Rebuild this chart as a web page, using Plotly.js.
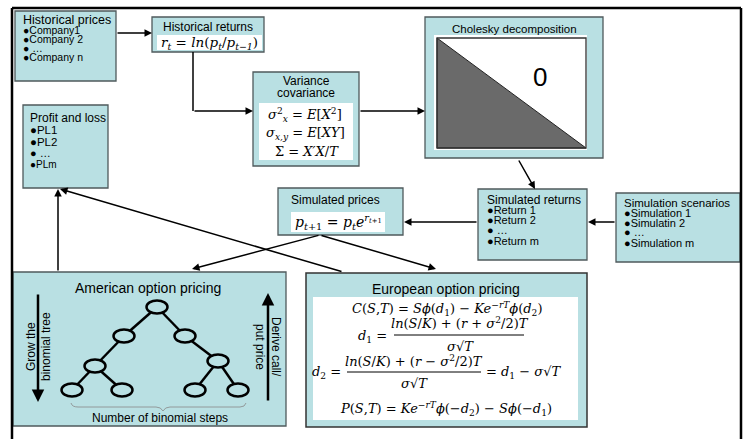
<!DOCTYPE html>
<html><head><meta charset="utf-8">
<script src="https://cdn.plot.ly/plotly-3.0.1.min.js"></script>
<style>html,body{margin:0;padding:0;background:#fff}</style>
</head><body><div id="chart" style="width:744px;height:439px"></div>
<script>
// ---- content (text) ----
const companies = ["Company1", "Company 2", "…", "Company n"];
const plItems = ["PL1", "PL2", "…", "PLm"];
const returnItems = ["Return 1", "Return 2", "…", "Return m"];
const scenarioItems = ["Simulation 1", "Simulatin 2", "…", "Simulation m"];
const treeNodes = [[157,307],[124,336],[185,336],[95,366],[218,361],[72,390],[122,390],[195,390],[238,390]];
const treeEdges = [[0,1],[0,2],[1,3],[2,4],[3,5],[3,6],[4,7],[4,8]];

const BOX = '#b9e0e3', EDGE = '#4f5a5c';
const SANS = 'Liberation Sans, Arial, sans-serif';
const SERIF = 'DejaVu Serif, Liberation Serif, serif';
const shapes = [], ann = [];

function rect(x0,y0,x1,y1,fill,line,w){shapes.push({type:'rect',xref:'x',yref:'y',x0,y0,x1,y1,fillcolor:fill,line:{color:line||EDGE,width:w===undefined?1.3:w},layer:'below'});}
function line(x0,y0,x1,y1,w,c){shapes.push({type:'line',xref:'x',yref:'y',x0,y0,x1,y1,line:{color:c||'#000',width:w||1.5}});}
function txt(x,y,t,size,anchor,font,extra){ann.push(Object.assign({x,y,xref:'x',yref:'y',text:t,showarrow:false,xanchor:anchor||'left',yanchor:'middle',font:{family:font||SANS,size:size,color:'#000'}},extra||{}));}
function arrow(x0,y0,x1,y1,w,hs){ann.push({x:x1,y:y1,ax:x0,ay:y0,xref:'x',yref:'y',axref:'x',ayref:'y',text:'',showarrow:true,arrowhead:2,arrowsize:hs||1,arrowwidth:w||1.5,arrowcolor:'#000',standoff:0,startstandoff:0});}
function bullets(x,ys,items,sizes){items.forEach((s,i)=>txt(x,ys[i],'●'+(s==='…'?' …':s),sizes?sizes[i]:11));}

// outer frame
line(12,8,12,439,2.5); line(12,8,741,8,2.5); line(741,8,741,439,2.5);

// Historical prices
rect(15,11,116,81,BOX);
txt(21,20,'Historical prices',12.5);
bullets(21,[30,39,48,57],companies,[10.5,10.5,10.5,10.5]);

// Historical returns
rect(152,17,264,52,BOX);
txt(208,27,'Historical returns',12,'center');
rect(157,35,262,50,'#fff','#fff',0);
txt(209,43,'<i>r<sub>t</sub></i> = <i>ln</i>(<i>p<sub>t</sub></i>/<i>p<sub>t−1</sub></i>)',13.5,'center',SERIF);
arrow(116,33,152,33);

// Variance covariance
rect(253,72,359,166,BOX);
txt(306,81,'Variance',12,'center');
txt(306,93,'covariance',12,'center');
rect(259,103,353,160,'#fff','#fff',0);
txt(305,115,'<i>σ</i><sup>2</sup><sub><i>x</i></sub> = <i>E</i>[<i>X</i><sup>2</sup>]',13,'center',SERIF);
txt(305,133,'<i>σ<sub>x,y</sub></i> = <i>E</i>[<i>XY</i>]',13,'center',SERIF);
txt(307,151,'Σ = <i>X′X</i>/<i>T</i>',13,'center',SERIF);
shapes.push({type:'path',xref:'x',yref:'y',path:'M193,52 L193,111',line:{color:'#000',width:1.5}});
arrow(193,111,253,111);
arrow(359,111,425,111);

// Cholesky
rect(425,17,603,158,BOX);
txt(514,29,'Cholesky decomposition',11.5,'center');
rect(434,35,587,150,'#fff','#fff',0);
shapes.push({type:'path',xref:'x',yref:'y',path:'M437,38 L437,148 L586,148 Z',fillcolor:'#6a6a6a',line:{color:'#222',width:1}});
shapes.push({type:'rect',xref:'x',yref:'y',x0:437,y0:38,x1:586,y1:148,line:{color:'#333',width:1.3}});
txt(540,77,'0',26,'center');
arrow(518,159,535,189);

// Simulated returns
rect(478,189,587,260,BOX);
txt(485,200,'Simulated returns',12);
bullets(485,[210,220,230,241],returnItems);

// Simulation scenarios
rect(616,193,740,262,BOX);
txt(622,203,'Simulation scenarios',11.5);
bullets(622,[213,223,232,243],scenarioItems);
arrow(616,222,588,222);

// Simulated prices
rect(278,188,403,235,BOX);
txt(335,200,'Simulated prices',12,'center');
rect(291,212,385,232,'#fff','#fff',0);
txt(338,222,'<i>p</i><sub><i>t</i>+1</sub> = <i>p<sub>t</sub>e</i><sup><i>r</i><sub><i>t</i>+1</sub></sup>',14,'center',SERIF);
arrow(478,222,404,222);

// Profit and loss
rect(23,105,108,188,BOX);
txt(28,118,'Profit and loss',12);
bullets(28,[130,142,153,164],plItems,[11.5,11.5,11,10]);

// arrows from simulated prices / to P&L
arrow(320,235,192,269);
arrow(320,235,436,269);
arrow(343,272,60,189);
arrow(58,272,58,189);

// American option pricing
rect(13,272,286,426,BOX);
txt(148,288,'American option pricing',14,'center');
arrow(38,293,38,402,2.5);
txt(31,347,'Grow the',12,'center',SANS,{textangle:-90});
txt(46,347,'binomial tree',12,'center',SANS,{textangle:-90});
arrow(268,402,268,293,2.5);
txt(276,347,'Derive call/',12,'center',SANS,{textangle:90});
txt(260,347,'put price',12,'center',SANS,{textangle:90});
const ex=[],ey=[];
treeEdges.forEach(([a,b])=>{ex.push(treeNodes[a][0],treeNodes[b][0],null);ey.push(treeNodes[a][1],treeNodes[b][1],null);});
treeNodes.forEach(([x,y])=>shapes.push({type:'circle',xref:'x',yref:'y',x0:x-10.5,x1:x+10.5,y0:y-6.5,y1:y+6.5,fillcolor:BOX,line:{color:'#000',width:2.5},layer:'above'}));
shapes.push({type:'path',xref:'x',yref:'y',path:'M71,403 Q72,407 78,407 L156,407 Q161,407 163,411 Q165,407 170,407 L240,407 Q245,407 246,403',line:{color:'#888',width:0.8}});
txt(160,418,'Number of binomial steps',12,'center');

// European option pricing
rect(306,273,587,427,BOX,'#333',1.5);
txt(446,289,'European option pricing',14,'center');
rect(313,297,578,420,'#fff','#fff',0);
const EF = 13;
txt(447,309,'<i>C</i>(<i>S</i>,<i>T</i>) = <i>Sϕ</i>(<i>d</i><sub>1</sub>) − <i>Ke</i><sup>−<i>rT</i></sup><i>ϕ</i>(<i>d</i><sub>2</sub>)',EF,'center',SERIF);
txt(389,336,'<i>d</i><sub>1</sub> =',EF,'right',SERIF);
txt(460,323,'<i>ln</i>(<i>S</i>/<i>K</i>) + (<i>r</i> + <i>σ</i><sup>2</sup>/2)<i>T</i>',EF,'center',SERIF);
line(394,335,524,335,1,'#000');
txt(460,346,'<i>σ</i>√<i>T</i>',EF,'center',SERIF);
txt(343,372,'<i>d</i><sub>2</sub> =',EF,'right',SERIF);
txt(414,361,'<i>ln</i>(<i>S</i>/<i>K</i>) + (<i>r</i> − <i>σ</i><sup>2</sup>/2)<i>T</i>',EF,'center',SERIF);
line(347,372,481,372,1,'#000');
txt(414,383,'<i>σ</i>√<i>T</i>',EF,'center',SERIF);
txt(484,372,'= <i>d</i><sub>1</sub> − <i>σ</i>√<i>T</i>',EF,'left',SERIF);
txt(446,409,'<i>P</i>(<i>S</i>,<i>T</i>) = <i>Ke</i><sup>−<i>rT</i></sup><i>ϕ</i>(−<i>d</i><sub>2</sub>) − <i>Sϕ</i>(−<i>d</i><sub>1</sub>)',EF,'center',SERIF);

const traces=[{type:'scatter',mode:'lines',x:ex,y:ey,line:{color:'#000',width:2.5},hoverinfo:'skip'}];
const layout={width:744,height:439,margin:{l:0,r:0,t:0,b:0},paper_bgcolor:'#fff',plot_bgcolor:'#fff',showlegend:false,
 xaxis:{range:[0,744],visible:false,fixedrange:true},yaxis:{range:[439,0],visible:false,fixedrange:true},shapes,annotations:ann};
Plotly.newPlot('chart',traces,layout,{staticPlot:true,displayModeBar:false});
</script></body></html>
